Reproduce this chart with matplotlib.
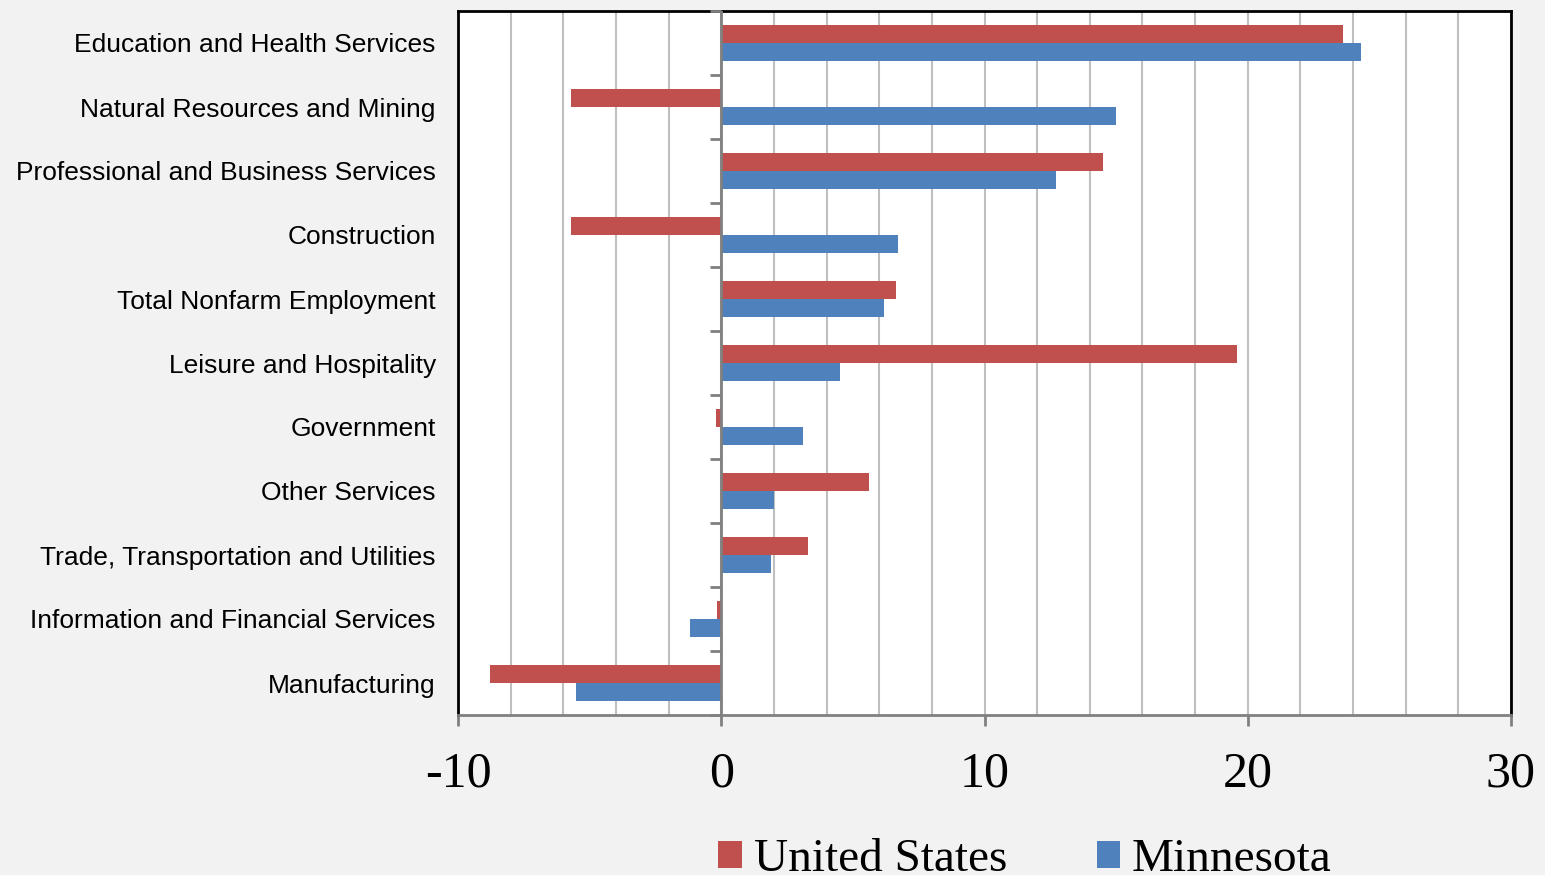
import numpy as np
import matplotlib
matplotlib.use('Agg')
import matplotlib.pyplot as plt
from matplotlib.lines import TICKLEFT

# Dữ liệu
categories = ['Education and Health Services', 'Natural Resources and Mining',
              'Professional and Business Services', 'Construction',
              'Total Nonfarm Employment', 'Leisure and Hospitality', 'Government',
              'Other Services', 'Trade, Transportation and Utilities',
              'Information and Financial Services', 'Manufacturing']
us_values = [23.6, -5.7, 14.5, -5.7, 6.65, 19.6, -0.2, 5.6, 3.3, -0.15, -8.8]
mn_values = [24.3, 15.0, 12.7, 6.7, 6.2, 4.5, 3.1, 2.0, 1.9, -1.2, -5.5]
series_names = ['United States', 'Minnesota']
x_ticks = [-10, 0, 10, 20, 30]

red = '#C0504D'
blue = '#4F81BD'
bg = '#F2F2F2'

plt.rcParams['axes.unicode_minus'] = False

fig = plt.figure(figsize=(15.45, 8.75), dpi=100, facecolor=bg)
ax = fig.add_axes([458 / 1545, 1 - 715 / 875, (1511 - 458) / 1545, (715 - 11) / 875])
ax.set_facecolor('white')

y = np.arange(len(categories))
h = 0.28
ax.barh(y - h / 2, us_values, height=h, color=red, label=series_names[0], zorder=3)
ax.barh(y + h / 2, mn_values, height=h, color=blue, label=series_names[1], zorder=3)

ax.set_xlim(-10, 30)
ax.set_ylim(len(categories) - 0.5, -0.5)

# Lưới dọc mỗi 2 đơn vị
ax.set_xticks(x_ticks)
ax.set_xticks(np.arange(-10, 31, 2), minor=True)
ax.grid(True, axis='x', which='both', color='#BFBFBF', linewidth=1.5, zorder=0)
ax.tick_params(axis='x', which='minor', length=0)
ax.tick_params(axis='x', which='major', length=8, width=2, color='#808080',
               labelsize=36, pad=18)
for lbl in ax.get_xticklabels():
    lbl.set_fontfamily('Liberation Serif')

ax.set_yticks(y)
ax.set_yticklabels(categories, fontsize=19, fontfamily='Liberation Sans')
ax.tick_params(axis='y', length=0, pad=16)

# Trục dọc tại 0 với các vạch chia
ax.axvline(0, color='#808080', linewidth=2, zorder=4)
bounds = np.arange(len(categories) + 1) - 0.5
ax.plot(np.zeros_like(bounds), bounds, linestyle='none', marker=TICKLEFT,
        markersize=8, markeredgewidth=2, color='#808080', zorder=4, clip_on=False)

for side in ['left', 'top', 'right']:
    ax.spines[side].set_color('black')
    ax.spines[side].set_linewidth(2)
ax.spines['bottom'].set_color('#808080')
ax.spines['bottom'].set_linewidth(2)

fig.legend(loc='center', bbox_to_anchor=(1025 / 1545, 1 - 860 / 875), ncol=2,
           frameon=False, prop={'family': 'Liberation Serif', 'size': 34},
           handlelength=0.5, handleheight=0.5, handletextpad=0.25, columnspacing=1.9)

fig.savefig('out.png', dpi=100, facecolor=bg)
